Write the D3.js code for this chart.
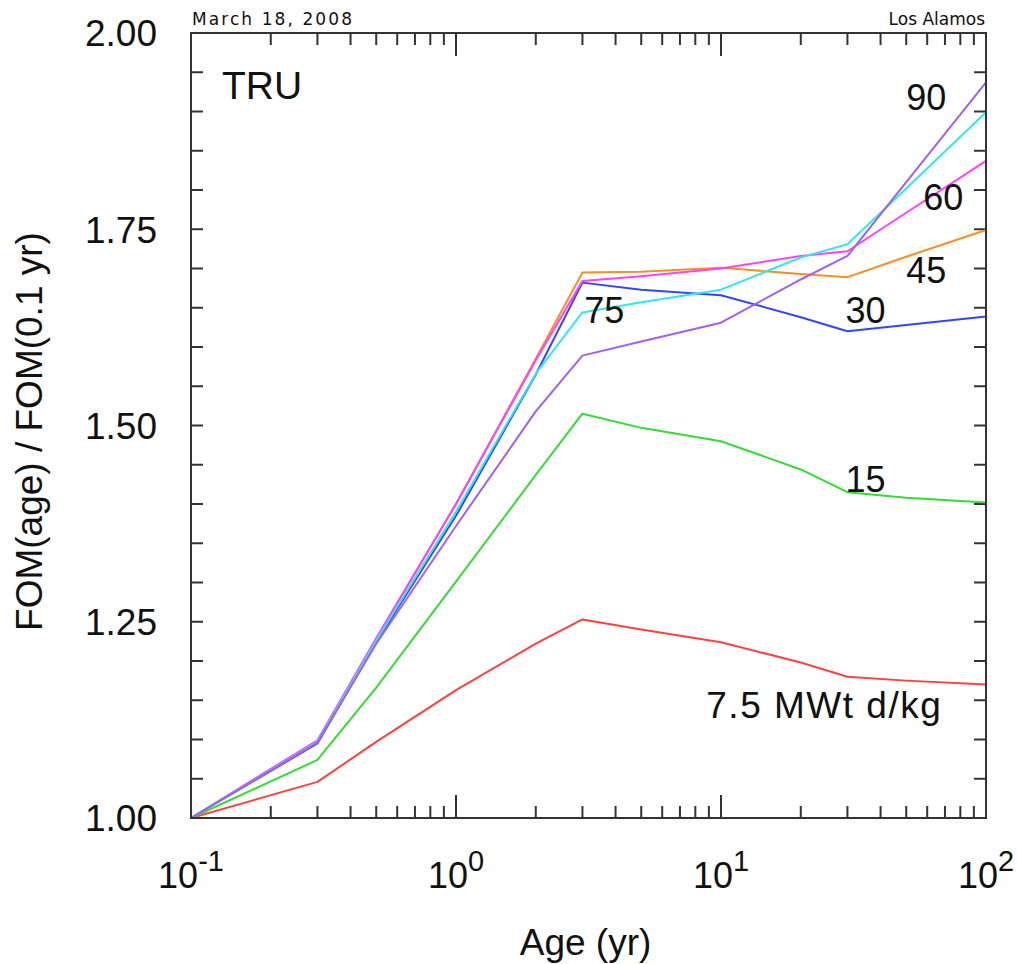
<!DOCTYPE html>
<html lang="en">
<head>
  <meta charset="UTF-8">
  <script src="https://d3js.org/d3.v7.min.js"></script>
  <style>
    body { margin: 0; background: #fff; font-family: Arial, "Liberation Sans", sans-serif; }
    svg text { fill: #111; }
  </style>
</head>
<body>
<div id="chart"></div>
<script>
// ages in years, FOM(age)/FOM(0.1 yr) per burnup (MWt d/kg)
const ages = [0.1, 0.3, 0.5, 1, 2, 3, 5, 10, 20, 30, 50, 100];
const bu7_5 = [1.000, 1.046, 1.097, 1.163, 1.222, 1.253, 1.240, 1.224, 1.198, 1.180, 1.175, 1.170];
const bu15  = [1.000, 1.074, 1.166, 1.301, 1.437, 1.515, 1.497, 1.480, 1.444, 1.415, 1.408, 1.402];
const bu30  = [1.000, 1.095, 1.224, 1.385, 1.565, 1.682, 1.673, 1.666, 1.638, 1.620, 1.628, 1.639];
const bu45  = [1.000, 1.098, 1.228, 1.400, 1.585, 1.695, 1.696, 1.701, 1.693, 1.689, 1.715, 1.749];
const bu60  = [1.000, 1.099, 1.229, 1.400, 1.583, 1.684, 1.690, 1.700, 1.716, 1.722, 1.771, 1.837];
const bu75  = [1.000, 1.097, 1.226, 1.390, 1.566, 1.644, 1.657, 1.673, 1.714, 1.731, 1.802, 1.899];
const bu90  = [1.000, 1.096, 1.222, 1.372, 1.518, 1.589, 1.607, 1.631, 1.686, 1.716, 1.810, 1.937];

const seriesNames = ['7.5', '15', '30', '45', '60', '75', '90'];
const seriesValues = [bu7_5, bu15, bu30, bu45, bu60, bu75, bu90];
const seriesColors = ['#ff4040', '#33dd33', '#3344ff', '#ff8c20', '#ff40ff', '#33e8e8', '#a060f0'];

const xDecades = [0.1, 1, 10, 100];
const xExponents = ['-1', '0', '1', '2'];
const yTicks = [1.00, 1.25, 1.50, 1.75, 2.00];

// curve labels: text and the age/value they sit at
const curveLabels = [
  { text: '7.5 MWt d/kg', age: 8.8, value: 1.128, spacing: 1.5 },
  { text: '15', age: 29.5, value: 1.415, spacing: 0 },
  { text: '30', age: 29.5, value: 1.630, spacing: 0 },
  { text: '45', age: 50, value: 1.682, spacing: 0 },
  { text: '60', age: 58, value: 1.775, spacing: 0 },
  { text: '75', age: 3.05, value: 1.630, spacing: 0 },
  { text: '90', age: 50, value: 1.902, spacing: 0 }
];

const width = 1017, height = 964;
const margin = { left: 191, right: 31, top: 33, bottom: 146 };

const svg = d3.select('#chart').append('svg')
  .attr('width', width)
  .attr('height', height);

const x = d3.scaleLog().domain([0.1, 100]).range([margin.left, width - margin.right]);
const y = d3.scaleLinear().domain([1, 2]).range([height - margin.bottom, margin.top]);

const x0 = x.range()[0], x1 = x.range()[1];
const y0 = y.range()[0], y1 = y.range()[1];

// ticks: x minor/major on bottom and top, y every 0.05 on left and right
const xAll = x.ticks();
const axisG = svg.append('g').attr('stroke', '#333').attr('stroke-width', 2);
xAll.forEach(v => {
  const major = xDecades.includes(v);
  const len = major ? 23 : 12;
  const px = x(v);
  axisG.append('line').attr('x1', px).attr('x2', px).attr('y1', y0).attr('y2', y0 - len);
  axisG.append('line').attr('x1', px).attr('x2', px).attr('y1', y1).attr('y2', y1 + len);
});
d3.range(1, 2.0001, 0.05).forEach(v => {
  const py = y(v);
  axisG.append('line').attr('x1', x0).attr('x2', x0 + 12).attr('y1', py).attr('y2', py);
  axisG.append('line').attr('x1', x1).attr('x2', x1 - 12).attr('y1', py).attr('y2', py);
});

// series lines
const line = d3.line()
  .x((d, i) => x(ages[i]))
  .y(d => y(d));

svg.append('g')
  .selectAll('path')
  .data(seriesValues)
  .join('path')
  .attr('d', d => line(d))
  .attr('fill', 'none')
  .attr('stroke', (d, i) => seriesColors[i])
  .attr('stroke-width', 2)
  .attr('stroke-linejoin', 'round');

// frame
svg.append('rect')
  .attr('x', x0).attr('y', y1)
  .attr('width', x1 - x0).attr('height', y0 - y1)
  .attr('fill', 'none').attr('stroke', '#333').attr('stroke-width', 2);

// y tick labels
svg.append('g')
  .selectAll('text')
  .data(yTicks)
  .join('text')
  .attr('x', x0 - 34)
  .attr('y', d => y(d))
  .attr('dy', '0.36em')
  .attr('text-anchor', 'end')
  .attr('font-size', 37)
  .text(d => d.toFixed(2));

// x tick labels with superscript exponents
const xl = svg.append('g')
  .selectAll('text')
  .data(xDecades)
  .join('text')
  .attr('x', d => x(d))
  .attr('y', y0 + 70)
  .attr('text-anchor', 'middle')
  .attr('font-size', 36);
xl.append('tspan').text('10');
xl.append('tspan')
  .attr('dy', -17)
  .attr('font-size', 29)
  .text((d, i) => xExponents[i]);

// axis titles
svg.append('text')
  .attr('x', (x0 + x1) / 2 - 3)
  .attr('y', 955)
  .attr('text-anchor', 'middle')
  .attr('font-size', 37)
  .text('Age (yr)');

svg.append('text')
  .attr('transform', `translate(42,${(y0 + y1) / 2 + 6}) rotate(-90)`)
  .attr('text-anchor', 'middle')
  .attr('font-size', 37)
  .text('FOM(age) / FOM(0.1 yr)');

// panel name
svg.append('text')
  .attr('x', 222).attr('y', 99)
  .attr('font-size', 39)
  .text('TRU');

// curve labels
svg.append('g')
  .selectAll('text')
  .data(curveLabels)
  .join('text')
  .attr('x', d => x(d.age))
  .attr('y', d => y(d.value))
  .attr('font-size', d => d.spacing ? 37 : 36)
  .attr('letter-spacing', d => d.spacing)
  .text(d => d.text);

// header notes
svg.append('text')
  .attr('x', x0 + 1).attr('y', 25)
  .attr('font-family', '"DejaVu Sans", sans-serif')
  .attr('font-size', 17)
  .attr('textLength', 160)
  .attr('lengthAdjust', 'spacing')
  .attr('fill', '#333')
  .text('March 18, 2008');

svg.append('text')
  .attr('x', x1 - 1).attr('y', 25)
  .attr('text-anchor', 'end')
  .attr('font-family', '"DejaVu Sans", sans-serif')
  .attr('font-size', 17)
  .attr('fill', '#333')
  .text('Los Alamos');
</script>
</body>
</html>
